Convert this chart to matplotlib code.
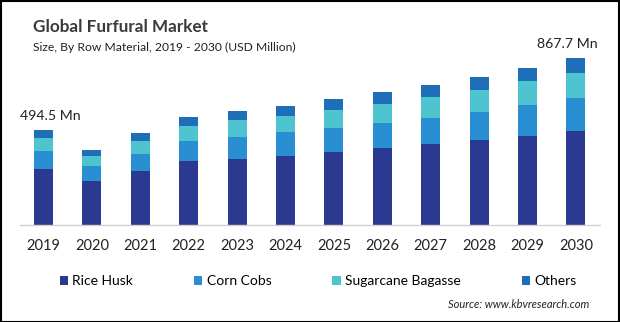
import numpy as np
import matplotlib.pyplot as plt
from matplotlib.patches import Rectangle

plt.rcParams['font.family'] = ['Lato', 'DejaVu Sans']

years = ['2019', '2020', '2021', '2022', '2023', '2024', '2025', '2026', '2027', '2028', '2029', '2030']
rice_husk = [293, 231, 281, 333, 344, 359, 382, 399, 420, 442, 462, 489]
corn_cobs = [92, 78, 89, 106, 115, 123, 121, 130, 137, 147, 165, 172]
sugarcane = [69, 50, 69, 78, 87, 87, 95, 102, 111, 113, 120, 132]
others = [40.5, 31, 40, 47, 48, 52, 57, 61, 61, 68, 71, 74.7]
series_names = ['Rice Husk', 'Corn Cobs', 'Sugarcane Bagasse', 'Others']
colors = ['#2b3990', '#2a8fd2', '#4dc4d0', '#1f6fb8']

W, H = 620, 322
fig = plt.figure(figsize=(W / 100, H / 100), dpi=100)
fig.patch.set_facecolor('white')

# axes placed in pixel coordinates
ax_left, ax_right, ax_base, ax_top = 20, 600, 225, 40
ax = fig.add_axes([ax_left / W, (H - ax_base) / H, (ax_right - ax_left) / W, (ax_base - ax_top) / H])
scale = 5.205  # Mn per pixel
ax.set_ylim(0, (ax_base - ax_top) * scale)
step = 48.4
ax.set_xlim((ax_left - 43.5) / step, (ax_right - 43.5) / step)

x = np.arange(len(years))
data = [rice_husk, corn_cobs, sugarcane, others]
bottom = np.zeros(len(years))
handles = []
for vals, c, name in zip(data, colors, series_names):
    b = ax.bar(x, vals, 0.39, bottom=bottom, color=c, label=name, linewidth=0)
    handles.append(b)
    bottom += np.array(vals)

for s in ['top', 'right', 'left']:
    ax.spines[s].set_visible(False)
ax.spines['bottom'].set_color('#d0d0d0')
ax.spines['bottom'].set_linewidth(1)
ax.set_yticks([])
ax.set_xticks(x)
ax.set_xticklabels(years, fontsize=10.5, color='#222222')
ax.tick_params(axis='x', length=0, pad=10)

ax.annotate('494.5 Mn', xy=(0, bottom[0]), xytext=(5, 6), textcoords='offset points',
            ha='center', va='bottom', fontsize=10.2, color='#222222')
ax.annotate('867.7 Mn', xy=(11, bottom[-1]), xytext=(-6, 6), textcoords='offset points',
            ha='center', va='bottom', fontsize=10.2, color='#222222')

fig.text(33 / W, 1 - 27 / H, 'Global Furfural Market', fontsize=12.3, fontweight='bold',
         color='#3a3a3a', va='center', ha='left')
fig.text(33 / W, 1 - 47 / H, 'Size, By Row Material, 2019 - 2030 (USD Million)', fontsize=8.7,
         color='#222222', va='center', ha='left')

fig.legend(handles=handles, labels=series_names, loc='center', bbox_to_anchor=(318 / W, 1 - 281 / H),
           ncol=4, frameon=False, fontsize=10, handlelength=0.6, handleheight=0.6,
           handletextpad=0.3, columnspacing=4.4)

fig.text(589 / W, 1 - 304 / H, 'Source: www.kbvresearch.com', fontsize=8, style='italic',
         color='#222222', va='center', ha='right')

# frame around figure
fig.patches.append(Rectangle((0.5 / W, 0.5 / H), 1 - 1.5 / W, 1 - 1.5 / H, transform=fig.transFigure,
                             fill=False, edgecolor='black', linewidth=1.5))

fig.savefig('out.png', dpi=100)
